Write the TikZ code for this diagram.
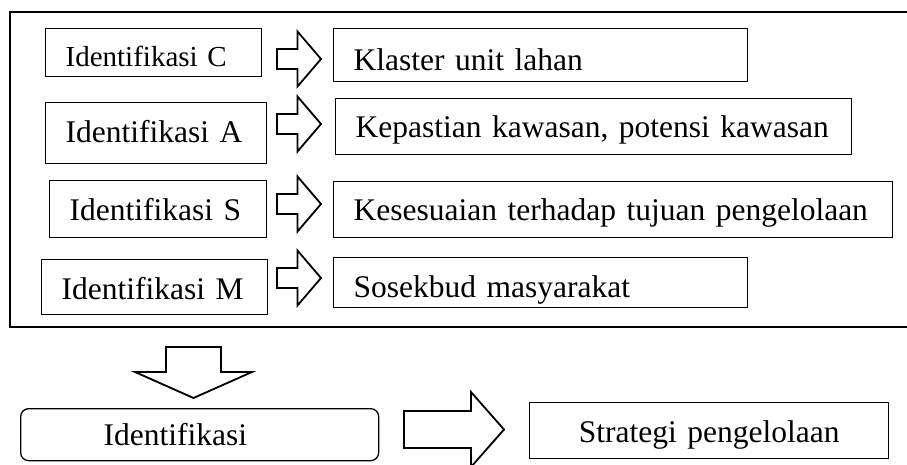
\documentclass[tikz,border=0pt]{standalone}
\usepackage{fontspec}
\setmainfont{Liberation Serif}
\usepackage{tikz}
\usetikzlibrary{calc}

\tikzset{
    box/.style 2 args={draw, rectangle, line width=1.3pt, anchor=north west,
        inner xsep=20pt, inner ysep=0pt, align=left, text height=40pt,
        text width=#1, text depth=#2, font=\fontsize{31.5}{36}\selectfont},
    blockarrow/.style={draw, line width=1.8pt, fill=white, line join=miter},
    rarrow/.pic={\draw[blockarrow] (0,-10) -- (20.5,-10) -- (20.5,-27.5) -- (44,0)
        -- (20.5,27.5) -- (20.5,10) -- (0,10) -- cycle;}
}

\begin{document}
\begin{tikzpicture}[x=1pt, y=-1pt]
    \useasboundingbox (0,0) rectangle (907,464);

    % Outer frame (right side runs off the page)
    \draw[line width=1.8pt] (912,12) -- (10,12) -- (10,327) -- (912,327);

    % Left column
    \node[box={176pt}{10pt}, text height=38pt, font=\fontsize{29}{34}\selectfont] (idC) at (45,28) {Identifikasi C};
    \node[box={181pt}{21pt}] (idA) at (45,102) {Identifikasi A};
    \node[box={177pt}{17pt}] (idS) at (49,180) {Identifikasi S};
    \node[box={186pt}{15pt}] (idM) at (41,259) {Identifikasi M};

    % Right column
    \node[box={374pt}{11pt}, text height=42pt] (klaster) at (333,28) {Klaster unit lahan};
    \node[box={476pt}{17pt}, text height=39pt] (kepastian) at (335,98) {Kepastian kawasan, potensi kawasan};
    \node[box={519pt}{17pt}, text height=39pt] (kesesuaian) at (333,181) {Kesesuaian terhadap tujuan pengelolaan};
    \node[box={374pt}{10pt}] (sosekbud) at (333,257) {Sosekbud masyarakat};

    % Row arrows
    \pic at (277,59) {rarrow};
    \pic at (277,124) {rarrow};
    \pic at (277,204) {rarrow};
    \pic at (277,278) {rarrow};

    % Down arrow
    \draw[blockarrow] (166,347) -- (221,347) -- (221,372) -- (252,372) -- (193.5,398)
        -- (135,372) -- (166,372) -- cycle;

    % Bottom row
    \node[box={192pt}{15pt}, rounded corners=8pt, inner xsep=83pt, text height=37pt] (ident) at (20,408) {Identifikasi};
    \node[box={319pt}{16pt}, align=center] (strategi) at (529,402) {Strategi pengelolaan};

    % Arrow to strategy (bottom cut by page)
    \draw[blockarrow] (404,411) -- (471,411) -- (471,392) -- (504,429.5) -- (471,467)
        -- (471,448) -- (404,448) -- cycle;
\end{tikzpicture}
\end{document}
